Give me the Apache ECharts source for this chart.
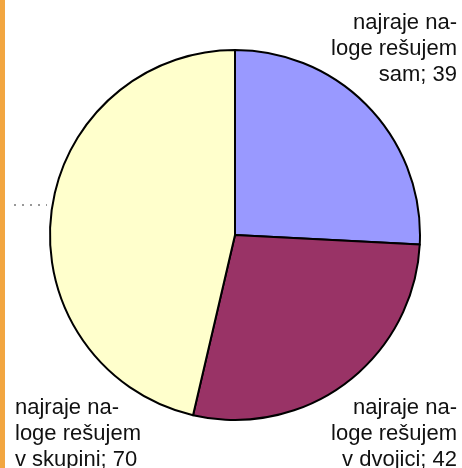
<!DOCTYPE html>
<html>
<head>
<meta charset="utf-8">
<script src="https://cdn.jsdelivr.net/npm/echarts@6/dist/echarts.min.js"></script>
<style>html,body{margin:0;padding:0;background:#fff;}#c{width:462px;height:468px;}</style>
</head>
<body>
<div id="c"></div>
<script>
var categories = ['najraje na-\nloge rešujem\nsam', 'najraje na-\nloge rešujem\nv dvojici', 'najraje na-\nloge rešujem\nv skupini'];
var values = [39, 42, 70];
var colors = ['#9999FF', '#993366', '#FFFFCC'];

var labelSpots = [
  {x: 457, y: 10, align: 'right'},
  {x: 457, y: 395, align: 'right'},
  {x: 15, y: 395, align: 'left'}
];

var chart = echarts.init(document.getElementById('c'));
chart.setOption({
  animation: false,
  graphic: [
    {type: 'rect', shape: {x: 0, y: 0, width: 5, height: 468}, style: {fill: '#F2A640'}},
    {type: 'line', shape: {x1: 14, y1: 205, x2: 47, y2: 205}, style: {stroke: '#333', lineWidth: 1, lineDash: [2, 6]}}
  ],
  series: [{
    type: 'pie',
    center: [235, 235],
    radius: 185,
    startAngle: 90,
    clockwise: true,
    avoidLabelOverlap: false,
    data: categories.map(function (c, i) {
      return {name: c, value: values[i], itemStyle: {color: colors[i]}};
    }),
    itemStyle: {borderColor: '#000', borderWidth: 2},
    label: {
      show: true,
      position: 'outside',
      formatter: '{b}; {c}',
      fontFamily: 'Liberation Sans, Arial, sans-serif',
      fontSize: 22,
      lineHeight: 26,
      color: '#111',
      overflow: 'none',
      width: 300
    },
    labelLine: {show: false},
    labelLayout: function (p) {
      var s = labelSpots[p.dataIndex];
      return {x: s.x, y: s.y, align: s.align, verticalAlign: 'top', hideOverlap: false, moveOverlap: null};
    },
    emphasis: {disabled: true}
  }]
});
</script>
</body>
</html>
